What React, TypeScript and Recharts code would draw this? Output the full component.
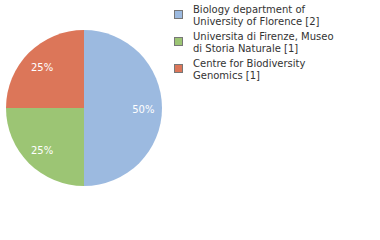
import { Cell, Pie, PieChart } from "recharts";

const names = [
    "Biology department of University of Florence",
    "Universita di Firenze, Museo di Storia Naturale",
    "Centre for Biodiversity Genomics",
];
const lines = [
    ["Biology department of", "University of Florence [2]"],
    ["Universita di Firenze, Museo", "di Storia Naturale [1]"],
    ["Centre for Biodiversity", "Genomics [1]"],
];
const counts = [2, 1, 1];
const colors = ["#9cbae0", "#9cc574", "#dc7659"];

const data = names.map((name, i) => ({ name, value: counts[i] }));

const RADIAN = Math.PI / 180;
const fontFamily = "'DejaVu Sans', sans-serif";

const renderLabel = ({ cx, cy, midAngle, outerRadius, percent }: any) => {
    const r = outerRadius * 0.76;
    const x = cx + r * Math.cos(-midAngle * RADIAN);
    const y = cy + r * Math.sin(-midAngle * RADIAN) + 1;
    return (
        <text
            x={x}
            y={y}
            fill="#ffffff"
            fontSize={10}
            fontFamily={fontFamily}
            textAnchor="middle"
            dominantBaseline="central"
        >
            {`${Math.round(percent * 100)}%`}
        </text>
    );
};

const ChartLegend = () => (
    <div
        style={{
            position: "absolute",
            left: 174,
            top: 4,
            width: 200,
            fontFamily,
            fontSize: 10,
            color: "#333",
            lineHeight: "12px",
        }}
    >
        {lines.map((l, i) => (
            <div key={i} style={{ display: "flex", marginBottom: 3 }}>
                <div
                    style={{
                        width: 7,
                        height: 7,
                        marginTop: 6,
                        marginRight: 10,
                        background: colors[i],
                        border: "1px solid #777",
                        flexShrink: 0,
                    }}
                />
                <div>
                    {l.map((t) => (
                        <div key={t}>{t}</div>
                    ))}
                </div>
            </div>
        ))}
    </div>
);

export default function App() {
    return (
        <div style={{ position: "absolute", left: 0, top: 0, width: 380, height: 240, background: "#fff" }}>
            <PieChart width={380} height={240} margin={{ top: 0, right: 0, bottom: 0, left: 0 }}>
                <Pie
                    data={data}
                    dataKey="value"
                    cx={84}
                    cy={108}
                    outerRadius={78}
                    startAngle={90}
                    endAngle={-270}
                    stroke="none"
                    label={renderLabel}
                    labelLine={false}
                    isAnimationActive={false}
                >
                    {data.map((_, i) => (
                        <Cell key={`cell-${i}`} fill={colors[i]} />
                    ))}
                </Pie>
            </PieChart>
            <ChartLegend />
        </div>
    );
}
